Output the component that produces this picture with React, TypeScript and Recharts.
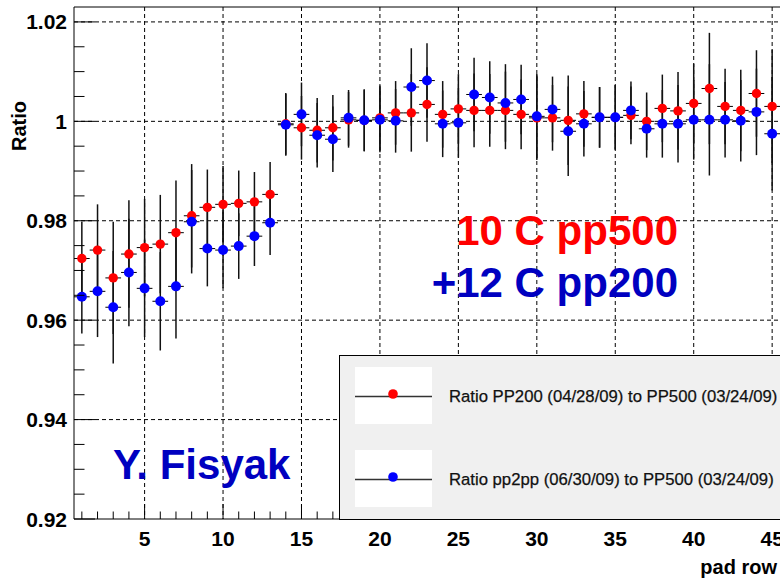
import React from 'react';
import {
  ScatterChart,
  Scatter,
  XAxis,
  YAxis,
  ErrorBar,
  CartesianGrid,
  ReferenceLine,
  Legend,
} from 'recharts';

const FONT = '"Liberation Sans", Arial, Helvetica, sans-serif';

// pad rows (x categories)
const padRows = [
  1, 2, 3, 4, 5, 6, 7, 8, 9, 10, 11, 12, 13, 14, 15, 16, 17, 18, 19, 20, 21, 22, 23,
  24, 25, 26, 27, 28, 29, 30, 31, 32, 33, 34, 35, 36, 37, 38, 39, 40, 41, 42, 43, 44, 45,
];

// Ratio PP200 (04/28/09) to PP500 (03/24/09)
const ratioPP200 = [
  0.9724, 0.9741, 0.9685, 0.9733, 0.9746, 0.9753, 0.9776, 0.981, 0.9827, 0.9833,
  0.9835, 0.9838, 0.9853, 0.9995, 0.9987, 0.9982, 0.9987, 1.0003, 1.0002, 1.0007,
  1.0017, 1.0017, 1.0034, 1.0014, 1.0025, 1.0022, 1.0022, 1.0022, 1.0014, 1.0007,
  1.0007, 1.0002, 1.0015, 1.0008, 1.0008, 1.0012, 1.0, 1.0026, 1.0021, 1.0036,
  1.0066, 1.003, 1.0022, 1.0056, 1.003,
];

// Ratio pp2pp (06/30/09) to PP500 (03/24/09)
const ratioPP2PP = [
  0.9647, 0.9658, 0.9626, 0.9696, 0.9664, 0.9638, 0.9668, 0.9798, 0.9744, 0.9741,
  0.9749, 0.9769, 0.9796, 0.9993, 1.0014, 0.9972, 0.9964, 1.0007, 1.0002, 1.0003,
  1.0001, 1.0069, 1.0082, 0.9995, 0.9997, 1.0054, 1.0048, 1.0037, 1.0044, 1.001,
  1.0024, 0.998, 0.9995, 1.0008, 1.0008, 1.0022, 0.9985, 0.9995, 0.9995, 1.0003,
  1.0003, 1.0003, 1.0001, 1.0019, 0.9975,
];

// statistical errors (same for both ratios)
const ratioErr = [
  0.0074, 0.0092, 0.0113, 0.0108, 0.0098, 0.0099, 0.0105, 0.0104, 0.0076, 0.0077,
  0.0066, 0.006, 0.0065, 0.0062, 0.0064, 0.0065, 0.0066, 0.0056, 0.0062, 0.0065,
  0.0064, 0.0078, 0.0075, 0.0067, 0.007, 0.0074, 0.0073, 0.0078, 0.007, 0.0085,
  0.0066, 0.009, 0.0066, 0.0061, 0.0065, 0.0058, 0.0058, 0.0068, 0.0078, 0.008,
  0.0112, 0.0076, 0.0082, 0.0087, 0.0114,
];

const binHalfWidth = 0.5;

const xMajorTicks = [5, 10, 15, 20, 25, 30, 35, 40, 45];
const yMajorTicks = [0.92, 0.94, 0.96, 0.98, 1.0, 1.02];
const yTicks = [
  0.92, 0.925, 0.93, 0.935, 0.94, 0.945, 0.95, 0.955, 0.96, 0.965, 0.97, 0.975,
  0.98, 0.985, 0.99, 0.995, 1.0, 1.005, 1.01, 1.015, 1.02,
];
const xDomain = [0.5, 45.5];
const yDomain = [0.92, 1.023];

const seriesNames = [
  'Ratio PP200 (04/28/09) to PP500 (03/24/09)',
  'Ratio pp2pp (06/30/09) to PP500 (03/24/09)',
];

const redData = padRows.map((x, i) => ({ x, y: ratioPP200[i], ey: ratioErr[i], ex: binHalfWidth }));
const blueData = padRows.map((x, i) => ({ x, y: ratioPP2PP[i], ey: ratioErr[i], ex: binHalfWidth }));

const isMajorY = (v: number) => yMajorTicks.some((m) => Math.abs(m - v) < 1e-9);

const XTick = (props: any) => {
  const { x, y, payload } = props;
  const v = payload.value;
  const major = xMajorTicks.includes(v);
  return (
    <g>
      <line x1={x} x2={x} y1={y} y2={y - (major ? 15 : 7.5)} stroke="#000" strokeWidth={1} />
      {major && (
        <text x={x} y={y + 27} textAnchor="middle" fontFamily={FONT} fontWeight="bold" fontSize={21} fill="#000">
          {v}
        </text>
      )}
    </g>
  );
};

const YTick = (props: any) => {
  const { x, y, payload } = props;
  const v = payload.value;
  const major = isMajorY(v);
  return (
    <g>
      <line x1={x} x2={x + (major ? 21 : 10.5)} y1={y} y2={y} stroke="#000" strokeWidth={1} />
      {major && (
        <text x={x - 7} y={y + 7.5} textAnchor="end" fontFamily={FONT} fontWeight="bold" fontSize={21} fill="#000">
          {Number(v.toFixed(2)).toString()}
        </text>
      )}
    </g>
  );
};

const LegendBox = (props: any) => {
  const payload = props.payload || [];
  return (
    <div
      style={{
        width: 460,
        height: 165,
        background: '#f0f0f0',
        borderLeft: '1.5px solid #000',
        borderTop: '1.5px solid #000',
        borderBottom: '1.5px solid #000',
        boxSizing: 'border-box',
        position: 'relative',
      }}
    >
      <svg width={460} height={165} style={{ position: 'absolute', left: -1.5, top: -1.5 }}>
        {payload.map((entry: any, i: number) => {
          const top = 12 + i * 83;
          return (
            <g key={i}>
              <rect x={16} y={top} width={77} height={57} fill="#fff" />
              <line x1={16} x2={93} y1={top + 29.5} y2={top + 29.5} stroke="#333" strokeWidth={1.5} />
              <circle cx={54} cy={top + 27} r={4.8} fill={entry.color} />
              <text x={110} y={top + 35} fontFamily={FONT} fontSize={16.7} fill="#111" stroke="#111" strokeWidth={0.25}>
                {entry.value}
              </text>
            </g>
          );
        })}
      </svg>
    </div>
  );
};

const dot = (color: string, r: number) => (p: any) => <circle cx={p.cx} cy={p.cy} r={r} fill={color} />;

export default function App() {
  return (
    <div style={{ position: 'fixed', left: 0, top: 0, width: 780, height: 580, overflow: 'hidden', background: '#fff' }}>
      <ScatterChart width={790} height={580} margin={{ top: 7, right: 10, bottom: 0, left: 0 }}>
        <CartesianGrid
          stroke="#000"
          strokeDasharray="4 3"
          horizontalValues={yMajorTicks.slice(1)}
          verticalValues={xMajorTicks}
          fill="none"
        />
        <XAxis
          type="number"
          dataKey="x"
          domain={xDomain}
          ticks={padRows}
          interval={0}
          tick={<XTick />}
          tickLine={false}
          tickSize={0}
          tickMargin={0}
          height={61}
          axisLine={{ stroke: '#000' }}
          allowDataOverflow
        />
        <YAxis
          type="number"
          dataKey="y"
          domain={yDomain}
          ticks={yTicks}
          interval={0}
          tick={<YTick />}
          tickLine={false}
          tickSize={0}
          tickMargin={0}
          width={74}
          axisLine={{ stroke: '#000' }}
          allowDataOverflow
        />
        <ReferenceLine y={yDomain[1]} stroke="#000" />
        <Scatter name={seriesNames[0]} data={redData} fill="#ff0000" shape={dot('#ff0000', 4.7)} isAnimationActive={false}>
          <ErrorBar dataKey="ex" direction="x" width={0} stroke="#000" strokeWidth={1} isAnimationActive={false} />
          <ErrorBar dataKey="ey" direction="y" width={0} stroke="#111" strokeWidth={1.5} isAnimationActive={false} />
        </Scatter>
        <Scatter name={seriesNames[1]} data={blueData} fill="#0000ff" shape={dot('#0000ff', 5)} isAnimationActive={false}>
          <ErrorBar dataKey="ex" direction="x" width={0} stroke="#000" strokeWidth={1} isAnimationActive={false} />
          <ErrorBar dataKey="ey" direction="y" width={0} stroke="#111" strokeWidth={1.5} isAnimationActive={false} />
        </Scatter>
        <Legend
          layout="vertical"
          align="center"
          verticalAlign="middle"
          wrapperStyle={{ left: 339, top: 355, width: 460, height: 165 }}
          content={<LegendBox />}
        />
      </ScatterChart>
      <svg
        width={780}
        height={580}
        style={{ position: 'absolute', left: 0, top: 0, pointerEvents: 'none' }}
      >
        <text x={678} y={245} textAnchor="end" fontFamily={FONT} fontWeight="bold" fontSize={42} fill="#ff0000">
          10 C pp500
        </text>
        <text x={678} y={297} textAnchor="end" fontFamily={FONT} fontWeight="bold" fontSize={42} fill="#0000c0">
          +12 C pp200
        </text>
        <text x={113} y={479} fontFamily={FONT} fontWeight="bold" fontSize={42} fill="#0000c0">
          Y. Fisyak
        </text>
        <text
          x={26}
          y={126}
          textAnchor="middle"
          transform="rotate(-90, 26, 126)"
          fontFamily={FONT}
          fontWeight="bold"
          fontSize={20}
          fill="#000"
        >
          Ratio
        </text>
        <text x={777} y={574} textAnchor="end" fontFamily={FONT} fontWeight="bold" fontSize={20} fill="#000">
          pad row
        </text>
      </svg>
    </div>
  );
}
